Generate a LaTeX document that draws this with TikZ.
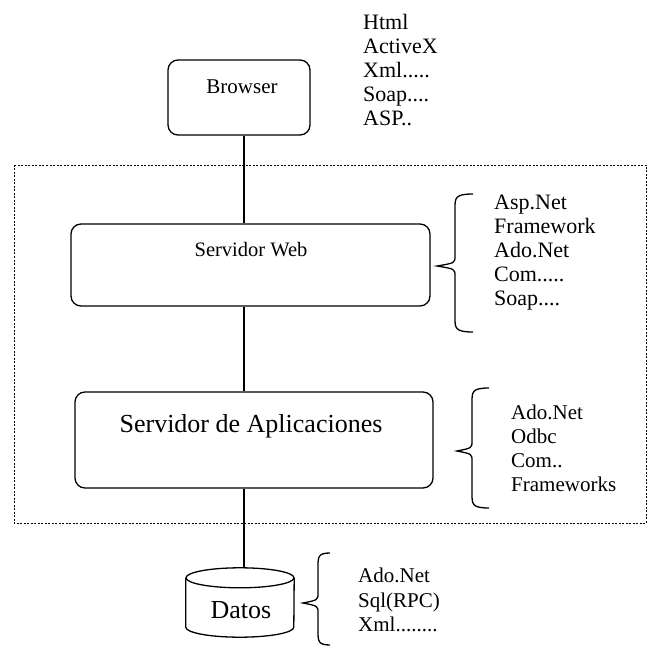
\documentclass[tikz,border=0pt]{standalone}
\usepackage{fontspec}
\setmainfont{Liberation Serif}
\usetikzlibrary{calc}

\begin{document}
\begin{tikzpicture}[x=1pt,y=-1pt,
	box/.style={draw,line width=1.3pt,rounded corners=10pt,inner sep=0pt},
	conn/.style={line width=1.3pt},
	frame/.style={dash pattern=on 2pt off 1.5pt,line width=0.8pt},
	bracepath/.style={line width=1.3pt},
	listtext/.style={align=left,anchor=north west,inner sep=0pt}]

\useasboundingbox (0,0) rectangle (656,647);

\def\axisX{244}
\def\listSkip{24}

% tip x, stem x, end x, top y, tip y, bottom y
\newcommand*{\curlybrace}[6] {
	\draw [bracepath] (#3,#4) .. controls (#2,#4) and (#2,#4+4) .. (#2,#4+14)
		-- (#2,#5-10) .. controls (#2,#5-3) .. (#1,#5)
		.. controls (#2,#5+3) .. (#2,#5+10)
		-- (#2,#6-14) .. controls (#2,#6-4) and (#2,#6) .. (#3,#6);
}

% server side
\draw [frame] (14,165) rectangle (646,523);

\coordinate (axis) at (\axisX,0);

\node [box,minimum width=142pt,minimum height=75pt] (browser) at (239,97.5) {};
\node [box,minimum width=359pt,minimum height=82pt] (web) at (250.5,265) {};
\node [box,minimum width=358pt,minimum height=96pt] (app) at (254,440) {};
\node [minimum width=108pt,minimum height=69pt,inner sep=0pt] (datos) at (240,602.5) {};

% cylinder
\draw [conn] ($(datos.north west)+(0,10)$) -- ($(datos.south west)+(0,-10)$)
	arc [start angle=180,end angle=0,x radius=54,y radius=10]
	-- ($(datos.north east)+(0,10)$);
\draw [conn] ($(datos.north)+(0,10)$) ellipse [x radius=54,y radius=10];

\node [anchor=base,inner sep=0pt,font=\fontsize{21}{24}\selectfont] (browserlabel) at (242,94) {Browser};
\node [anchor=base,inner sep=0pt,font=\fontsize{20.5}{24}\selectfont] (weblabel) at (251,257) {Servidor Web};
\node [anchor=base,inner sep=0pt,font=\fontsize{26}{30}\selectfont] (applabel) at (251,432) {Servidor de Aplicaciones};
\node [anchor=base,inner sep=0pt,font=\fontsize{26}{30}\selectfont] (datoslabel) at (241,618.5) {Datos};

\draw [conn] (browser.south -| axis) -- (web.north -| axis);
\draw [conn] (web.south -| axis) -- (app.north -| axis);
\draw [conn] (app.south -| axis) -- (datos.north -| axis);

% technology lists
\node [listtext,font=\fontsize{22}{\listSkip}\selectfont] (clientlist) at (363,14) {Html\\ActiveX\\Xml.....\\Soap....\\ASP..};
\node [listtext,font=\fontsize{22}{\listSkip}\selectfont] (weblist) at (494,195) {Asp.Net\\Framework\\Ado.Net\\Com.....\\Soap....};
\node [listtext,font=\fontsize{21}{\listSkip}\selectfont] (applist) at (511,405) {Ado.Net\\Odbc\\Com..\\Frameworks};
\node [listtext,font=\fontsize{21}{24.5}\selectfont] (datoslist) at (358,568) {Ado.Net\\Sql(RPC)\\Xml........};

\curlybrace{437}{455}{473}{194}{266}{332}
\curlybrace{457}{472}{489}{388}{451}{508}
\curlybrace{303}{318}{330}{553}{603}{645}

\end{tikzpicture}
\end{document}
